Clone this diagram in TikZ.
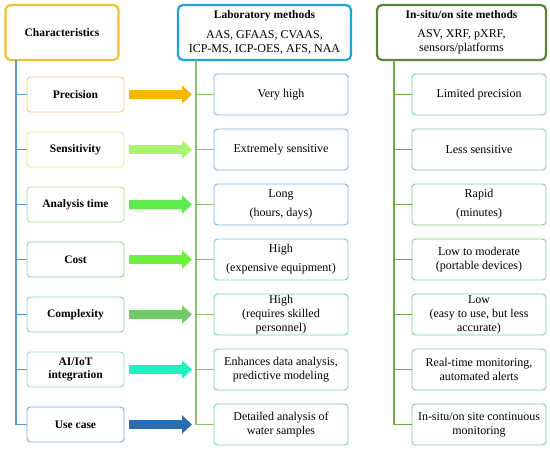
\documentclass[tikz,border=0pt]{standalone}
\usepackage{fontspec}
\setmainfont{Liberation Serif}
\usetikzlibrary{arrows.meta}
\definecolor{hdgold}{HTML}{F4C030}
\definecolor{hdblue}{HTML}{1FA3DB}
\definecolor{hdgreen}{HTML}{558736}
\definecolor{trkblue}{HTML}{5B9BD5}
\definecolor{trkmid}{HTML}{8DC26A}
\definecolor{trkright}{HTML}{70AD47}
\definecolor{lb1}{HTML}{F5CB6B}
\definecolor{lb2}{HTML}{DAEF88}
\definecolor{lb3}{HTML}{A5E38A}
\definecolor{lb4}{HTML}{8ED48E}
\definecolor{lb5}{HTML}{85D5B5}
\definecolor{lb6}{HTML}{8ADCD6}
\definecolor{lb7}{HTML}{80A9D9}
\definecolor{ar1}{HTML}{F5B800}
\definecolor{ar2}{HTML}{A9F570}
\definecolor{ar3}{HTML}{5CEB4A}
\definecolor{ar4}{HTML}{6EF040}
\definecolor{ar5}{HTML}{73C96A}
\definecolor{ar6}{HTML}{1EF2C0}
\definecolor{ar7}{HTML}{2B6CB0}
\definecolor{mbA}{HTML}{7FB3E0}
\definecolor{mbB}{HTML}{72CFC5}
\definecolor{rbox}{HTML}{80CE96}
\tikzset{
 headbox/.style={draw, line width=2.2pt, rounded corners=5pt, align=center, minimum height=55, inner sep=2pt},
 leftbox/.style={draw, line width=0.9pt, rounded corners=3.5pt, align=center, minimum width=97, minimum height=35, font=\fontsize{11.5}{13}\selectfont\bfseries, inner sep=1pt},
 itembox/.style={draw, line width=0.9pt, rounded corners=3.5pt, align=center, minimum width=134, minimum height=41, inner sep=1pt},
 trunk/.style={line width=1.2pt},
 fatarrow/.style={line width=9pt, -{Triangle[length=10pt,width=18pt]}}
}

\begin{document}
\begin{tikzpicture}[x=1pt, y=-1pt, font=\fontsize{12}{14}\selectfont]
\useasboundingbox (0,0) rectangle (550,450);
% headers
\node[headbox, draw=hdgold, minimum width=113, font=\fontsize{11.5}{14}\selectfont\bfseries] (chr) at (62,32.5) {Characteristics};
\node[headbox, draw=hdblue, minimum width=173] (lab) at (264.5,32.5) {{\fontsize{11.5}{14}\selectfont\bfseries Laboratory methods}\\[5.5pt] AAS, GFAAS, CVAAS,\\ ICP-MS, ICP-OES, AFS, NAA};
\node[headbox, draw=hdgreen, minimum width=169] (ins) at (461.5,32.5) {{\fontsize{11.5}{14}\selectfont\bfseries In-situ/on site methods}\\[5.5pt] ASV, XRF, pXRF,\\ sensors/platforms};
\coordinate (lt) at (16,60);
\coordinate (mt) at (196,60);
\coordinate (rt) at (394,60);

% characteristics
\node[leftbox, draw=lb1] (l1) at (75.5,94.5) {Precision};
\node[leftbox, draw=lb2] (l2) at (75.5,149.5) {Sensitivity};
\node[leftbox, draw=lb3] (l3) at (75.5,204.5) {Analysis time};
\node[leftbox, draw=lb4] (l4) at (75.5,259.5) {Cost};
\node[leftbox, draw=lb5] (l5) at (75.5,314.5) {Complexity};
\node[leftbox, draw=lb6] (l6) at (75.5,369.5) {AI/IoT\\integration};
\node[leftbox, draw=lb7] (l7) at (75.5,424.5) {Use case};

% laboratory
\node[itembox, draw=mbA] (m1) at (281,94.5) {Very high};
\node[itembox, draw=mbA] (m2) at (281,149.5) {Extremely sensitive};
\node[itembox, draw=mbA] (m3) at (281,204.5) {Long\\[5pt](hours, days)};
\node[itembox, draw=mbB] (m4) at (281,259.5) {High\\[5pt](expensive equipment)};
\node[itembox, draw=mbB] (m5) at (281,314.5) {High\\(requires skilled\\personnel)};
\node[itembox, draw=mbB] (m6) at (281,369.5) {Enhances data analysis,\\predictive modeling};
\node[itembox, draw=mbB] (m7) at (281,424.5) {Detailed analysis of\\water samples};

% in-situ
\node[itembox, draw=rbox] (r1) at (479,94.5) {Limited precision};
\node[itembox, draw=rbox] (r2) at (479,149.5) {Less sensitive};
\node[itembox, draw=rbox] (r3) at (479,204.5) {Rapid\\[5pt](minutes)};
\node[itembox, draw=rbox] (r4) at (479,259.5) {Low to moderate\\(portable devices)};
\node[itembox, draw=rbox] (r5) at (479,314.5) {Low\\(easy to use, but less\\accurate)};
\node[itembox, draw=rbox] (r6) at (479,369.5) {Real-time monitoring,\\automated alerts};
\node[itembox, draw=rbox] (r7) at (479,424.5) {In-situ/on site continuous\\monitoring};

% trunks and branches
\draw[trunk, trkblue] (lt) |- (l7.west);
\draw[trunk, trkmid] (mt) |- (m7.west);
\draw[trunk, trkright] (rt) |- (r7.west);
\foreach \i in {1,...,6} {
 \draw[trunk, trkblue] (l\i.west) -- (l\i.west -| lt);
 \draw[trunk, trkmid] (m\i.west) -- (m\i.west -| mt);
 \draw[trunk, trkright] (r\i.west) -- (r\i.west -| rt);
}
\foreach \i in {1,...,7} {
 \draw[fatarrow, ar\i] ([xshift=5pt]l\i.east) -- ([xshift=-4pt]l\i.east -| mt);
}
\end{tikzpicture}
\end{document}
